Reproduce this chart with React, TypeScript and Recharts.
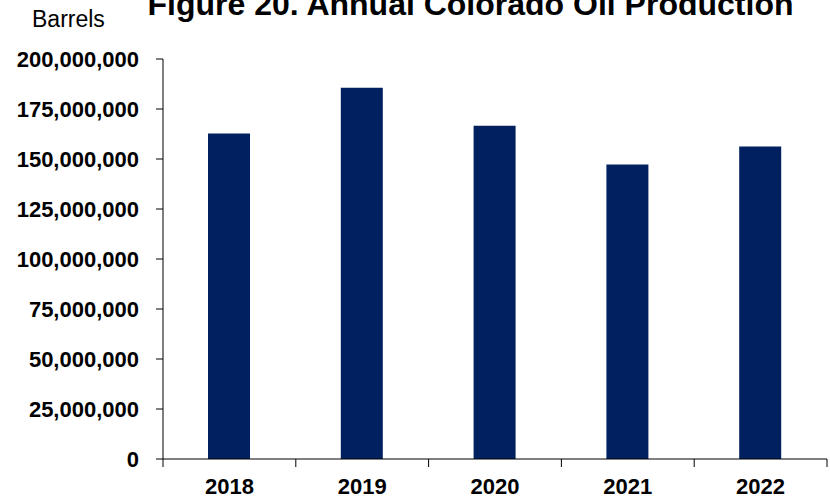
import React from "react";
import { BarChart, Bar, XAxis, YAxis } from "recharts";

const years = ["2018", "2019", "2020", "2021", "2022"];
const production = [162700000, 185600000, 166600000, 147200000, 156200000];
const yTicks = [0, 25000000, 50000000, 75000000, 100000000, 125000000, 150000000, 175000000, 200000000];
const title = "Figure 20. Annual Colorado Oil Production";
const unitLabel = "Barrels";

const data = years.map((y, i) => ({ year: y, value: production[i] }));

const FONT = "'Liberation Sans', Arial, sans-serif";

const XTick = (props: any) => {
  const { x, y, payload, index } = props;
  const half = payload.offset || 0;
  const axisY = y - 8 - 11;
  return (
    <g>
      <line x1={x - half} x2={x - half} y1={axisY} y2={axisY + 8} stroke="#000" strokeWidth={1} />
      {index === years.length - 1 && (
        <line x1={x + half} x2={x + half} y1={axisY} y2={axisY + 8} stroke="#000" strokeWidth={1} />
      )}
      <text x={x} y={y} dy="0.71em" textAnchor="middle" fontFamily={FONT} fontWeight="bold" fontSize={22} fill="#000">
        {payload.value}
      </text>
    </g>
  );
};

export default function App() {
  return (
    <div style={{ position: "absolute", left: 0, top: 0, width: 830, height: 501, background: "#fff" }}>
      <BarChart
        width={830}
        height={501}
        data={data}
        margin={{ top: 59, right: 3, bottom: 0, left: 0 }}
      >
        <XAxis
          dataKey="year"
          height={42}
          tickLine={false}
          tickSize={8}
          tickMargin={11}
          axisLine={{ stroke: "#000", strokeWidth: 1 }}
          tick={<XTick />}
          interval={0}
        />
        <YAxis
          width={163}
          domain={[0, 200000000]}
          ticks={yTicks}
          interval={0}
          tickSize={7}
          tickMargin={17}
          tickLine={{ stroke: "#000", strokeWidth: 1 }}
          axisLine={{ stroke: "#000", strokeWidth: 1 }}
          tickFormatter={(v: number) => v.toLocaleString("en-US")}
          tick={{ fontFamily: FONT, fontWeight: "bold", fontSize: 22, fill: "#000" }}
        />
        <Bar dataKey="value" fill="#002060" barSize={42} isAnimationActive={false} />
      </BarChart>
      <svg width={830} height={501} style={{ position: "absolute", left: 0, top: 0, pointerEvents: "none" }}>
        <text x={470.5} y={15} textAnchor="middle" fontFamily={FONT} fontWeight="bold" fontSize={32} fill="#000">
          {title}
        </text>
        <text x={32} y={27} fontFamily={FONT} fontSize={23} fill="#000">
          {unitLabel}
        </text>
      </svg>
    </div>
  );
}
